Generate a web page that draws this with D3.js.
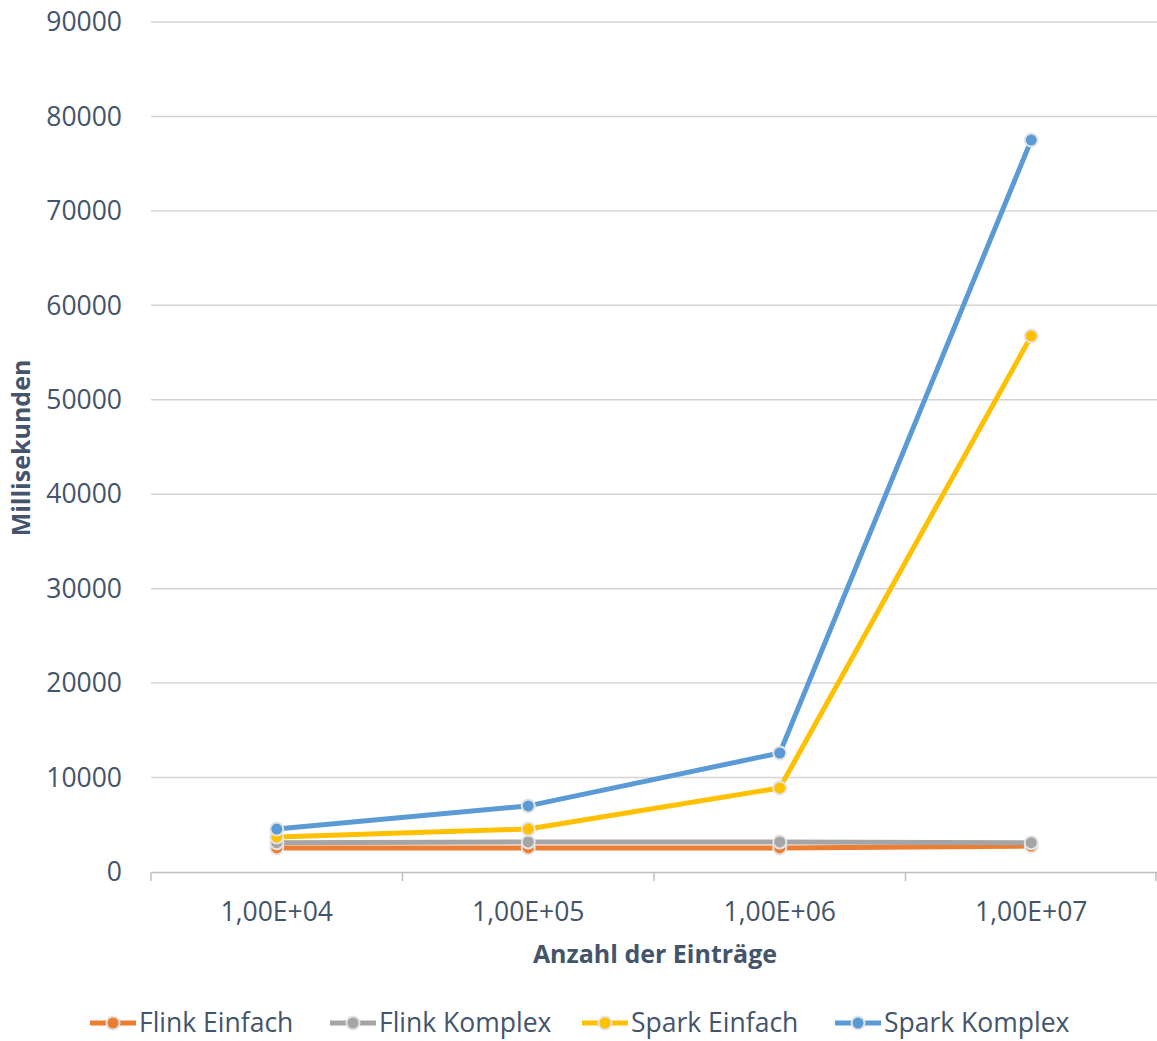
<!DOCTYPE html>
<html>
<head>
<meta charset="utf-8">
<script src="https://cdn.jsdelivr.net/npm/d3@7"></script>
<style>
  body { margin: 0; background: #fff; }
  text { font-family: "Open Sans", "Noto Sans", sans-serif; fill: #44546a; }
  .axis-title { font-weight: bold; font-size: 25px; }
</style>
</head>
<body>
<div id="chart"></div>
<script>
const categories = ["1,00E+04", "1,00E+05", "1,00E+06", "1,00E+07"];
const seriesNames = ["Flink Einfach", "Flink Komplex", "Spark Einfach", "Spark Komplex"];
const flinkEinfach = [2550, 2550, 2550, 2750];
const flinkKomplex = [3100, 3180, 3180, 3100];
const sparkEinfach = [3700, 4550, 8900, 56750];
const sparkKomplex = [4550, 7000, 12600, 77500];
const colors = ["#ED7D31", "#A5A5A5", "#FFC000", "#5B9BD5"];
const yTicks = [0, 10000, 20000, 30000, 40000, 50000, 60000, 70000, 80000, 90000];

const seriesValues = [flinkEinfach, flinkKomplex, sparkEinfach, sparkKomplex];

const W = 1157, H = 1041;
const margin = { top: 22, right: 0, bottom: 169, left: 151 };
const width = W - margin.left - margin.right;
const height = H - margin.top - margin.bottom;

const svg = d3.select("#chart").append("svg")
    .attr("width", W)
    .attr("height", H);

const g = svg.append("g")
    .attr("transform", `translate(${margin.left},${margin.top})`);

// Scales
const x = d3.scaleBand().domain(categories).range([0, width]).padding(0);
const y = d3.scaleLinear().domain([0, 90000]).range([height, 0]);

// Gridlines
g.selectAll(".grid")
    .data(yTicks.filter(d => d > 0))
    .join("line")
    .attr("class", "grid")
    .attr("x1", 0)
    .attr("x2", width)
    .attr("y1", d => y(d))
    .attr("y2", d => y(d))
    .attr("stroke", "#d4d4d4")
    .attr("stroke-width", 1.5);

// Y axis labels
g.selectAll(".ylab")
    .data(yTicks)
    .join("text")
    .attr("class", "ylab")
    .attr("x", -29)
    .attr("y", d => y(d))
    .attr("dy", "0.35em")
    .attr("text-anchor", "end")
    .style("font-size", "26.5px")
    .text(d => d);

// X axis
const xAxis = d3.axisBottom(x).tickSize(0).tickPadding(30);
const xAxisGroup = g.append("g")
    .attr("transform", `translate(0,${height})`)
    .call(xAxis);
xAxisGroup.select(".domain").attr("stroke", "#bfbfbf").attr("stroke-width", 1.5);
xAxisGroup.selectAll("text")
    .style("font-size", "26.5px")
    .style("font-family", "'Open Sans', 'Noto Sans', sans-serif")
    .attr("fill", "#44546a");

// Tick marks at band boundaries
const bounds = categories.map(c => x(c)).concat([x(categories[categories.length - 1]) + x.bandwidth() - 1]);
g.selectAll(".xtick")
    .data(bounds)
    .join("line")
    .attr("class", "xtick")
    .attr("x1", d => d)
    .attr("x2", d => d)
    .attr("y1", height)
    .attr("y2", height + 9)
    .attr("stroke", "#bfbfbf")
    .attr("stroke-width", 1.5);

// Axis titles
g.append("text")
    .attr("class", "axis-title")
    .attr("x", width / 2 + 1)
    .attr("y", height + 91)
    .attr("text-anchor", "middle")
    .text("Anzahl der Einträge");

g.append("text")
    .attr("class", "axis-title")
    .attr("transform", "rotate(-90)")
    .attr("x", -(426))
    .attr("y", -121)
    .attr("text-anchor", "middle")
    .text("Millisekunden");

// Lines and markers
const cx = c => x(c) + x.bandwidth() / 2;
const line = d3.line()
    .x(d => cx(d.cat))
    .y(d => y(d.value));

seriesValues.forEach((vals, i) => {
    const pts = categories.map((c, j) => ({ cat: c, value: vals[j] }));
    const sg = g.append("g").attr("class", "series");
    sg.append("path")
        .datum(pts)
        .attr("fill", "none")
        .attr("stroke", colors[i])
        .attr("stroke-width", 5)
        .attr("stroke-linejoin", "round")
        .attr("d", line);
    sg.selectAll("circle")
        .data(pts)
        .join("circle")
        .attr("cx", d => cx(d.cat))
        .attr("cy", d => y(d.value))
        .attr("r", 6.5)
        .attr("fill", colors[i])
        .attr("stroke", "#e4e4e4")
        .attr("stroke-width", 2);
});

// Legend
const legendX = [90, 330, 582, 835];
const legend = svg.append("g").attr("transform", `translate(0,1023)`);
seriesNames.forEach((name, i) => {
    const lg = legend.append("g").attr("transform", `translate(${legendX[i]},0)`);
    lg.append("line")
        .attr("x1", 0).attr("x2", 46)
        .attr("y1", 0).attr("y2", 0)
        .attr("stroke", colors[i])
        .attr("stroke-width", 5);
    lg.append("circle")
        .attr("cx", 23).attr("cy", 0).attr("r", 6.5)
        .attr("fill", colors[i])
        .attr("stroke", "#e4e4e4")
        .attr("stroke-width", 2);
    lg.append("text")
        .attr("x", 49)
        .attr("y", 0)
        .attr("dy", "0.35em")
        .style("font-size", "26.5px")
        .text(name);
});
</script>
</body>
</html>
